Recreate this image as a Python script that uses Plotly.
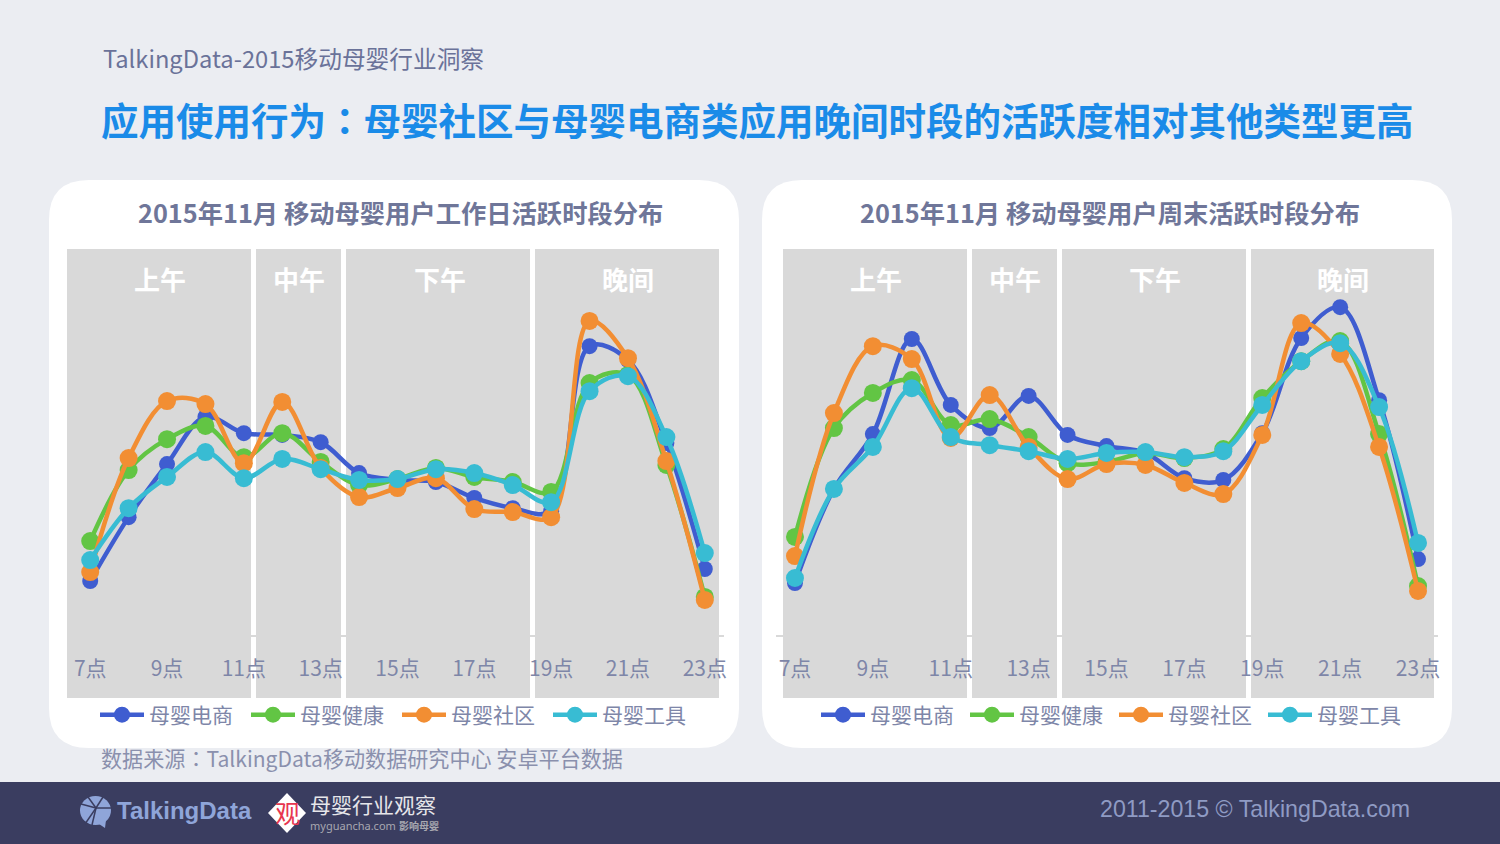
import plotly.graph_objects as go

W, H = 1500, 844
CJK = "Noto Sans CJK SC"
# this one centres the full-width colon like the original slide
COLON = '<span style="font-family:\'Noto Sans CJK TC\'">：</span>'

# hours on the x axis, every second one is labelled
hours = ["%d点" % h for h in range(7, 24)]
tick_hours = hours[::2]
series_names = ["母婴电商", "母婴健康", "母婴社区", "母婴工具"]
series_colors = ["#3f5dd0", "#62c544", "#f28e33", "#38bcd3"]
marker_sizes = [16, 18, 18, 18]
period_names = ["上午", "中午", "下午", "晚间"]

# workday
work_dianshang = [1.80, 3.93, 5.70, 7.27, 6.73, 6.67, 6.43, 5.40, 5.17, 5.10, 4.57, 4.23, 4.13, 9.63, 9.17, 6.40, 2.20]
work_jiankang = [3.13, 5.50, 6.53, 6.97, 5.93, 6.73, 5.77, 5.00, 5.20, 5.57, 5.27, 5.10, 4.77, 8.40, 8.67, 5.67, 1.27]
work_shequ = [2.10, 5.90, 7.80, 7.70, 5.73, 7.77, 5.57, 4.60, 4.90, 5.23, 4.20, 4.10, 3.93, 10.47, 9.23, 5.80, 1.17]
work_gongju = [2.50, 4.23, 5.27, 6.10, 5.23, 5.87, 5.53, 5.17, 5.20, 5.53, 5.40, 5.00, 4.43, 8.13, 8.63, 6.60, 2.73]

# weekend
end_dianshang = [1.73, 4.87, 6.70, 9.87, 7.67, 6.90, 7.97, 6.67, 6.30, 6.07, 5.23, 5.17, 6.73, 9.90, 10.93, 7.83, 2.53]
end_jiankang = [3.27, 6.90, 8.07, 8.50, 7.00, 7.20, 6.60, 5.73, 5.77, 6.07, 5.90, 6.20, 7.90, 9.13, 9.80, 6.70, 1.63]
end_shequ = [2.63, 7.40, 9.63, 9.20, 6.57, 8.00, 6.27, 5.20, 5.70, 5.67, 5.07, 4.70, 6.67, 10.40, 9.37, 6.27, 1.47]
end_gongju = [1.90, 4.87, 6.27, 8.23, 6.60, 6.33, 6.13, 5.87, 6.07, 6.10, 5.93, 6.13, 7.67, 9.13, 9.73, 7.60, 3.07]


def px(x):
    return x / W


def py(y):
    return 1 - y / H


def rect(x0, y0, x1, y1, color):
    return dict(type="rect", xref="paper", yref="paper", layer="below",
                x0=px(x0), x1=px(x1), y0=py(y0), y1=py(y1),
                fillcolor=color, line_width=0)


def path(cmds, color=None, line=None, width=0):
    # cmds are (letter, x, y, ...) in screen pixels
    parts = []
    for c in cmds:
        nums = c[1:]
        coords = []
        for i in range(0, len(nums), 2):
            coords.append("%.5f,%.5f" % (px(nums[i]), py(nums[i + 1])))
        parts.append(c[0] + " ".join(coords))
    return dict(type="path", xref="paper", yref="paper", layer="below",
                path=" ".join(parts) + (" Z" if color else ""),
                fillcolor=color or "rgba(0,0,0,0)",
                line=dict(color=line or "rgba(0,0,0,0)", width=width))


def card(x0, y0, x1, y1, r, color):
    return path([("M", x0 + r, y0), ("L", x1 - r, y0), ("Q", x1, y0, x1, y0 + r),
                 ("L", x1, y1 - r), ("Q", x1, y1, x1 - r, y1), ("L", x0 + r, y1),
                 ("Q", x0, y1, x0, y1 - r), ("L", x0, y0 + r), ("Q", x0, y0, x0 + r, y0)], color)


def note(x, y, text, size, color, anchor="left", family=CJK):
    return dict(x=px(x), y=py(y), xref="paper", yref="paper", text=text, showarrow=False,
                xanchor=anchor, yanchor="middle", font=dict(size=size, color=color, family=family))


fig = go.Figure()

left_series = [work_dianshang, work_jiankang, work_shequ, work_gongju]
right_series = [end_dianshang, end_jiankang, end_shequ, end_gongju]

for vals, name, color, size in zip(left_series, series_names, series_colors, marker_sizes):
    fig.add_trace(go.Scatter(x=hours, y=vals, name=name, mode="lines+markers", xaxis="x", yaxis="y",
                             line=dict(color=color, width=4.5, shape="spline", smoothing=1.0),
                             marker=dict(color=color, size=size), cliponaxis=False, legend="legend"))
for vals, name, color, size in zip(right_series, series_names, series_colors, marker_sizes):
    fig.add_trace(go.Scatter(x=hours, y=vals, name=name, mode="lines+markers", xaxis="x2", yaxis="y2",
                             line=dict(color=color, width=4.5, shape="spline", smoothing=1.0),
                             marker=dict(color=color, size=size), cliponaxis=False, legend="legend2"))

shapes = [rect(0, 782, W, H, "#3a3d60"),
          card(49, 180, 739, 748, 40, "#ffffff"),
          card(762, 180, 1452, 748, 40, "#ffffff")]
panels_left = [(67, 251), (256, 341), (346, 530), (535, 719)]
panels_right = [(783, 967), (972, 1057), (1062, 1246), (1251, 1434)]
for a, b in panels_left + panels_right:
    shapes.append(rect(a, 249, b, 698, "#d9d9d9"))

# footer logos
shapes.append(dict(type="circle", xref="paper", yref="paper", layer="below",
                   x0=px(80), x1=px(111), y0=py(796), y1=py(825), fillcolor="#8fa5d9", line_width=0))
shapes.append(path([("M", 96, 822), ("L", 106, 820), ("L", 105, 828)], "#8fa5d9"))
for x1, y1 in [(88, 797), (103, 797), (111, 808), (81, 804), (85, 824), (92, 825)]:
    shapes.append(path([("M", 96, 808), ("L", x1, y1)], None, "#3a3d60", 1.5))
shapes.append(path([("M", 287, 793), ("L", 306, 813), ("L", 287, 833), ("L", 268, 813)], "#ffffff"))

annotations = [
    note(101, 58, "TalkingData-2015移动母婴行业洞察", 23.7, "#6a7299"),
    note(757, 119, "<b>应用使用行为%s母婴社区与母婴电商类应用晚间时段的活跃度相对其他类型更高</b>" % COLON, 37.5, "#1a8be8", "center"),
    note(400.5, 212, "<b>2015年11月 移动母婴用户工作日活跃时段分布</b>", 25.3, "#6f7699", "center"),
    note(1110, 212, "<b>2015年11月 移动母婴用户周末活跃时段分布</b>", 25.3, "#6f7699", "center"),
    note(99, 758, "数据来源%sTalkingData移动数据研究中心 安卓平台数据" % COLON, 21.1, "#8a90ad"),
    note(1412, 809, "2011-2015 © TalkingData.com", 23.2, "#8f9bc4", "right", "Liberation Sans"),
    note(115, 810, "<b>TalkingData</b>", 24, "#8fa5d9", "left", "Liberation Sans"),
    note(287, 812, "观", 25, "#e8364f", "center"),
    note(308, 804, "母婴行业观察", 21, "#e6e6ea"),
    note(308, 825.5, "myguancha.com", 11, "#a8a8b0", "left", "Noto Sans"),
    note(397, 825, "<b>影响母婴</b>", 10, "#a8a8b0"),
]
for name, cx in zip(period_names, [160, 299, 440, 628]):
    annotations.append(note(cx, 278, "<b>%s</b>" % name, 26, "#ffffff", "center"))
for name, cx in zip(period_names, [876, 1015, 1155, 1343]):
    annotations.append(note(cx, 278, "<b>%s</b>" % name, 26, "#ffffff", "center"))

xaxis_style = dict(type="category", categoryorder="array", categoryarray=hours,
                   range=[-0.5, 16.5], tickmode="array", tickvals=tick_hours,
                   showgrid=False, zeroline=False, showline=True, linecolor="#d9d9d9", linewidth=2,
                   ticks="", ticklabelstandoff=14,
                   tickfont=dict(size=21, color="#7e86a8", family=CJK))
yaxis_style = dict(range=[0, 12.87], visible=False, domain=[py(635), py(249)])

legend_style = dict(orientation="h", xanchor="left", yanchor="middle", itemwidth=44,
                    bgcolor="rgba(0,0,0,0)", itemclick=False, itemdoubleclick=False,
                    tracegroupgap=0, entrywidthmode="pixels",
                    font=dict(size=21, color="#7e86a8", family=CJK))

fig.update_layout(
    width=W, height=H, margin=dict(l=0, r=0, t=0, b=0, autoexpand=False), autosize=False,
    paper_bgcolor="#ebedf2", plot_bgcolor="rgba(0,0,0,0)",
    font=dict(family=CJK), hovermode=False,
    xaxis=dict(xaxis_style, domain=[px(71), px(724)], anchor="y"),
    yaxis=dict(yaxis_style, anchor="x"),
    xaxis2=dict(xaxis_style, domain=[px(775.5), px(1437.5)], anchor="y2"),
    yaxis2=dict(yaxis_style, anchor="x2"),
    legend=dict(legend_style, x=px(95), y=py(715), entrywidth=92),
    legend2=dict(legend_style, x=px(816), y=py(715), entrywidth=90),
    shapes=shapes, annotations=annotations, showlegend=True,
)

fig.write_html("out.html", config={"displayModeBar": False},
               post_script="document.body.style.margin='0';document.body.style.overflow='hidden';")
